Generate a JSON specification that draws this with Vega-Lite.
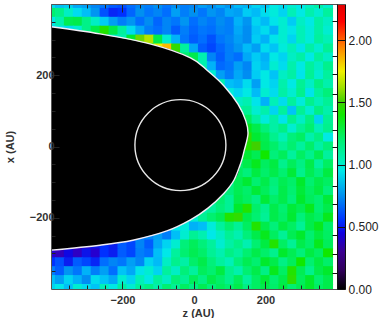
{"$schema":"https://vega.github.io/schema/vega-lite/v6.json","background":"white","padding":{"left":4,"top":3,"right":0,"bottom":0},"config":{"view":{"stroke":null},"axis":{"labelFont":"Liberation Sans","titleFont":"Liberation Sans","labelFontSize":11,"titleFontSize":11,"labelColor":"#333","titleColor":"#333","labelFontWeight":"bold","titleFontWeight":"bold","grid":false}},"datasets":{"cells":[
{"z":-400,"x":400,"v":0.92},{"z":-375,"x":400,"v":0.85},{"z":-350,"x":400,"v":0.88},{"z":-325,"x":400,"v":0.8},{"z":-300,"x":400,"v":0.78},{"z":-275,"x":400,"v":0.72},{"z":-250,"x":400,"v":0.68},{"z":-225,"x":400,"v":0.62},{"z":-200,"x":400,"v":0.6},{"z":-175,"x":400,"v":0.66},{"z":-150,"x":400,"v":0.72},{"z":-125,"x":400,"v":0.7},{"z":-100,"x":400,"v":0.75},{"z":-75,"x":400,"v":0.68},{"z":-50,"x":400,"v":0.74},{"z":-25,"x":400,"v":0.7},{"z":0,"x":400,"v":0.72},{"z":25,"x":400,"v":0.78},{"z":50,"x":400,"v":0.74},{"z":75,"x":400,"v":0.8},{"z":100,"x":400,"v":0.76},{"z":125,"x":400,"v":0.84},{"z":150,"x":400,"v":0.82},{"z":175,"x":400,"v":0.9},{"z":200,"x":400,"v":0.86},{"z":225,"x":400,"v":0.96},{"z":250,"x":400,"v":0.92},{"z":275,"x":400,"v":1.0},{"z":300,"x":400,"v":0.95},{"z":325,"x":400,"v":1.02},{"z":350,"x":400,"v":1.08},{"z":375,"x":400,"v":1.0},
{"z":-400,"x":375,"v":1.2},{"z":-375,"x":375,"v":1.15},{"z":-350,"x":375,"v":1.02},{"z":-325,"x":375,"v":0.92},{"z":-300,"x":375,"v":0.85},{"z":-275,"x":375,"v":0.76},{"z":-250,"x":375,"v":0.6},{"z":-225,"x":375,"v":0.52},{"z":-200,"x":375,"v":0.55},{"z":-175,"x":375,"v":0.64},{"z":-150,"x":375,"v":0.75},{"z":-125,"x":375,"v":0.68},{"z":-100,"x":375,"v":0.72},{"z":-75,"x":375,"v":0.66},{"z":-50,"x":375,"v":0.78},{"z":-25,"x":375,"v":0.7},{"z":0,"x":375,"v":0.75},{"z":25,"x":375,"v":0.68},{"z":50,"x":375,"v":0.76},{"z":75,"x":375,"v":0.72},{"z":100,"x":375,"v":0.8},{"z":125,"x":375,"v":0.78},{"z":150,"x":375,"v":0.88},{"z":175,"x":375,"v":0.84},{"z":200,"x":375,"v":0.92},{"z":225,"x":375,"v":0.98},{"z":250,"x":375,"v":0.9},{"z":275,"x":375,"v":1.04},{"z":300,"x":375,"v":0.96},{"z":325,"x":375,"v":1.06},{"z":350,"x":375,"v":1.0},{"z":375,"x":375,"v":1.1},
{"z":-400,"x":350,"v":0.95},{"z":-375,"x":350,"v":1.05},{"z":-350,"x":350,"v":1.28},{"z":-325,"x":350,"v":1.3},{"z":-300,"x":350,"v":1.15},{"z":-275,"x":350,"v":1.02},{"z":-250,"x":350,"v":0.88},{"z":-225,"x":350,"v":0.78},{"z":-200,"x":350,"v":0.7},{"z":-175,"x":350,"v":0.76},{"z":-150,"x":350,"v":0.66},{"z":-125,"x":350,"v":0.74},{"z":-100,"x":350,"v":0.64},{"z":-75,"x":350,"v":0.72},{"z":-50,"x":350,"v":0.68},{"z":-25,"x":350,"v":0.76},{"z":0,"x":350,"v":0.66},{"z":25,"x":350,"v":0.72},{"z":50,"x":350,"v":0.68},{"z":75,"x":350,"v":0.74},{"z":100,"x":350,"v":0.7},{"z":125,"x":350,"v":0.82},{"z":150,"x":350,"v":0.76},{"z":175,"x":350,"v":0.9},{"z":200,"x":350,"v":0.84},{"z":225,"x":350,"v":0.94},{"z":250,"x":350,"v":1.0},{"z":275,"x":350,"v":0.88},{"z":300,"x":350,"v":1.02},{"z":325,"x":350,"v":0.96},{"z":350,"x":350,"v":1.08},{"z":375,"x":350,"v":1.02},
{"z":-400,"x":325,"v":0.9},{"z":-375,"x":325,"v":0.95},{"z":-350,"x":325,"v":0.92},{"z":-325,"x":325,"v":1.0},{"z":-300,"x":325,"v":1.15},{"z":-275,"x":325,"v":1.3},{"z":-250,"x":325,"v":1.42},{"z":-225,"x":325,"v":1.3},{"z":-200,"x":325,"v":1.1},{"z":-175,"x":325,"v":0.92},{"z":-150,"x":325,"v":0.8},{"z":-125,"x":325,"v":0.7},{"z":-100,"x":325,"v":0.66},{"z":-75,"x":325,"v":0.72},{"z":-50,"x":325,"v":0.62},{"z":-25,"x":325,"v":0.7},{"z":0,"x":325,"v":0.64},{"z":25,"x":325,"v":0.68},{"z":50,"x":325,"v":0.66},{"z":75,"x":325,"v":0.72},{"z":100,"x":325,"v":0.7},{"z":125,"x":325,"v":0.8},{"z":150,"x":325,"v":0.74},{"z":175,"x":325,"v":0.86},{"z":200,"x":325,"v":0.92},{"z":225,"x":325,"v":0.82},{"z":250,"x":325,"v":1.0},{"z":275,"x":325,"v":0.94},{"z":300,"x":325,"v":1.04},{"z":325,"x":325,"v":0.98},{"z":350,"x":325,"v":1.08},{"z":375,"x":325,"v":1.0},
{"z":-250,"x":300,"v":0.9},{"z":-225,"x":300,"v":1.0},{"z":-200,"x":300,"v":1.05},{"z":-175,"x":300,"v":1.35},{"z":-150,"x":300,"v":1.55},{"z":-125,"x":300,"v":1.65},{"z":-100,"x":300,"v":1.3},{"z":-75,"x":300,"v":1.0},{"z":-50,"x":300,"v":0.82},{"z":-25,"x":300,"v":0.68},{"z":0,"x":300,"v":0.62},{"z":25,"x":300,"v":0.66},{"z":50,"x":300,"v":0.6},{"z":75,"x":300,"v":0.68},{"z":100,"x":300,"v":0.72},{"z":125,"x":300,"v":0.78},{"z":150,"x":300,"v":0.74},{"z":175,"x":300,"v":0.88},{"z":200,"x":300,"v":0.82},{"z":225,"x":300,"v":0.94},{"z":250,"x":300,"v":1.0},{"z":275,"x":300,"v":0.9},{"z":300,"x":300,"v":1.04},{"z":325,"x":300,"v":0.98},{"z":350,"x":300,"v":1.1},{"z":375,"x":300,"v":1.04},
{"z":-125,"x":275,"v":1.3},{"z":-100,"x":275,"v":1.75},{"z":-75,"x":275,"v":1.85},{"z":-50,"x":275,"v":1.45},{"z":-25,"x":275,"v":1.1},{"z":0,"x":275,"v":0.8},{"z":25,"x":275,"v":0.62},{"z":50,"x":275,"v":0.58},{"z":75,"x":275,"v":0.64},{"z":100,"x":275,"v":0.7},{"z":125,"x":275,"v":0.76},{"z":150,"x":275,"v":0.84},{"z":175,"x":275,"v":0.78},{"z":200,"x":275,"v":0.92},{"z":225,"x":275,"v":0.86},{"z":250,"x":275,"v":0.98},{"z":275,"x":275,"v":1.04},{"z":300,"x":275,"v":0.94},{"z":325,"x":275,"v":1.08},{"z":350,"x":275,"v":1.0},{"z":375,"x":275,"v":1.12},
{"z":-50,"x":250,"v":1.3},{"z":-25,"x":250,"v":1.2},{"z":0,"x":250,"v":1.3},{"z":25,"x":250,"v":1.05},{"z":50,"x":250,"v":0.72},{"z":75,"x":250,"v":0.62},{"z":100,"x":250,"v":0.7},{"z":125,"x":250,"v":0.66},{"z":150,"x":250,"v":0.8},{"z":175,"x":250,"v":0.88},{"z":200,"x":250,"v":0.82},{"z":225,"x":250,"v":0.96},{"z":250,"x":250,"v":0.9},{"z":275,"x":250,"v":1.02},{"z":300,"x":250,"v":1.08},{"z":325,"x":250,"v":0.96},{"z":350,"x":250,"v":1.1},{"z":375,"x":250,"v":1.02},
{"z":0,"x":225,"v":1.15},{"z":25,"x":225,"v":1.05},{"z":50,"x":225,"v":0.82},{"z":75,"x":225,"v":0.65},{"z":100,"x":225,"v":0.68},{"z":125,"x":225,"v":0.78},{"z":150,"x":225,"v":0.72},{"z":175,"x":225,"v":0.9},{"z":200,"x":225,"v":0.84},{"z":225,"x":225,"v":1.0},{"z":250,"x":225,"v":0.92},{"z":275,"x":225,"v":1.06},{"z":300,"x":225,"v":0.96},{"z":325,"x":225,"v":1.1},{"z":350,"x":225,"v":1.02},{"z":375,"x":225,"v":1.14},
{"z":25,"x":200,"v":1.1},{"z":50,"x":200,"v":1.0},{"z":75,"x":200,"v":0.78},{"z":100,"x":200,"v":0.7},{"z":125,"x":200,"v":0.8},{"z":150,"x":200,"v":0.74},{"z":175,"x":200,"v":0.88},{"z":200,"x":200,"v":0.96},{"z":225,"x":200,"v":0.86},{"z":250,"x":200,"v":1.02},{"z":275,"x":200,"v":1.08},{"z":300,"x":200,"v":0.94},{"z":325,"x":200,"v":1.12},{"z":350,"x":200,"v":1.0},{"z":375,"x":200,"v":1.1},
{"z":75,"x":175,"v":1.05},{"z":100,"x":175,"v":0.85},{"z":125,"x":175,"v":0.82},{"z":150,"x":175,"v":0.92},{"z":175,"x":175,"v":0.78},{"z":200,"x":175,"v":0.96},{"z":225,"x":175,"v":0.9},{"z":250,"x":175,"v":1.06},{"z":275,"x":175,"v":0.96},{"z":300,"x":175,"v":1.12},{"z":325,"x":175,"v":1.02},{"z":350,"x":175,"v":1.16},{"z":375,"x":175,"v":1.06},
{"z":100,"x":150,"v":0.98},{"z":125,"x":150,"v":0.9},{"z":150,"x":150,"v":0.96},{"z":175,"x":150,"v":0.84},{"z":200,"x":150,"v":1.0},{"z":225,"x":150,"v":0.92},{"z":250,"x":150,"v":1.08},{"z":275,"x":150,"v":1.0},{"z":300,"x":150,"v":1.14},{"z":325,"x":150,"v":0.94},{"z":350,"x":150,"v":1.1},{"z":375,"x":150,"v":1.18},
{"z":100,"x":125,"v":1.1},{"z":125,"x":125,"v":1.02},{"z":150,"x":125,"v":1.05},{"z":175,"x":125,"v":0.94},{"z":200,"x":125,"v":0.82},{"z":225,"x":125,"v":1.04},{"z":250,"x":125,"v":0.92},{"z":275,"x":125,"v":1.1},{"z":300,"x":125,"v":0.98},{"z":325,"x":125,"v":1.14},{"z":350,"x":125,"v":1.04},{"z":375,"x":125,"v":1.12},
{"z":125,"x":100,"v":1.1},{"z":150,"x":100,"v":1.12},{"z":175,"x":100,"v":1.0},{"z":200,"x":100,"v":1.06},{"z":225,"x":100,"v":0.9},{"z":250,"x":100,"v":1.1},{"z":275,"x":100,"v":0.86},{"z":300,"x":100,"v":1.12},{"z":325,"x":100,"v":1.0},{"z":350,"x":100,"v":1.16},{"z":375,"x":100,"v":1.06},
{"z":125,"x":75,"v":1.2},{"z":150,"x":75,"v":1.25},{"z":175,"x":75,"v":1.1},{"z":200,"x":75,"v":0.98},{"z":225,"x":75,"v":1.08},{"z":250,"x":75,"v":0.94},{"z":275,"x":75,"v":1.14},{"z":300,"x":75,"v":1.02},{"z":325,"x":75,"v":1.16},{"z":350,"x":75,"v":0.9},{"z":375,"x":75,"v":1.12},
{"z":150,"x":50,"v":1.38},{"z":175,"x":50,"v":1.3},{"z":200,"x":50,"v":1.18},{"z":225,"x":50,"v":1.08},{"z":250,"x":50,"v":1.16},{"z":275,"x":50,"v":1.0},{"z":300,"x":50,"v":1.12},{"z":325,"x":50,"v":1.2},{"z":350,"x":50,"v":1.04},{"z":375,"x":50,"v":1.14},
{"z":150,"x":25,"v":1.45},{"z":175,"x":25,"v":1.35},{"z":200,"x":25,"v":1.28},{"z":225,"x":25,"v":1.14},{"z":250,"x":25,"v":1.04},{"z":275,"x":25,"v":1.18},{"z":300,"x":25,"v":1.24},{"z":325,"x":25,"v":1.06},{"z":350,"x":25,"v":1.16},{"z":375,"x":25,"v":0.96},
{"z":125,"x":0,"v":1.3},{"z":150,"x":0,"v":1.42},{"z":175,"x":0,"v":1.5},{"z":200,"x":0,"v":1.3},{"z":225,"x":0,"v":1.22},{"z":250,"x":0,"v":1.12},{"z":275,"x":0,"v":1.2},{"z":300,"x":0,"v":1.1},{"z":325,"x":0,"v":1.22},{"z":350,"x":0,"v":1.08},{"z":375,"x":0,"v":1.18},
{"z":125,"x":-25,"v":1.25},{"z":150,"x":-25,"v":1.35},{"z":175,"x":-25,"v":1.28},{"z":200,"x":-25,"v":1.4},{"z":225,"x":-25,"v":1.18},{"z":250,"x":-25,"v":1.26},{"z":275,"x":-25,"v":1.1},{"z":300,"x":-25,"v":1.24},{"z":325,"x":-25,"v":1.14},{"z":350,"x":-25,"v":1.28},{"z":375,"x":-25,"v":1.1},
{"z":125,"x":-50,"v":1.2},{"z":150,"x":-50,"v":1.3},{"z":175,"x":-50,"v":1.38},{"z":200,"x":-50,"v":1.25},{"z":225,"x":-50,"v":1.32},{"z":250,"x":-50,"v":1.14},{"z":275,"x":-50,"v":1.26},{"z":300,"x":-50,"v":1.16},{"z":325,"x":-50,"v":1.3},{"z":350,"x":-50,"v":1.1},{"z":375,"x":-50,"v":1.24},
{"z":100,"x":-75,"v":1.2},{"z":125,"x":-75,"v":1.25},{"z":150,"x":-75,"v":1.18},{"z":175,"x":-75,"v":1.32},{"z":200,"x":-75,"v":1.22},{"z":225,"x":-75,"v":1.3},{"z":250,"x":-75,"v":1.2},{"z":275,"x":-75,"v":1.34},{"z":300,"x":-75,"v":1.14},{"z":325,"x":-75,"v":1.28},{"z":350,"x":-75,"v":1.18},{"z":375,"x":-75,"v":1.32},
{"z":100,"x":-100,"v":1.15},{"z":125,"x":-100,"v":1.28},{"z":150,"x":-100,"v":1.35},{"z":175,"x":-100,"v":1.2},{"z":200,"x":-100,"v":1.3},{"z":225,"x":-100,"v":1.18},{"z":250,"x":-100,"v":1.28},{"z":275,"x":-100,"v":1.22},{"z":300,"x":-100,"v":1.36},{"z":325,"x":-100,"v":1.2},{"z":350,"x":-100,"v":1.3},{"z":375,"x":-100,"v":1.24},
{"z":75,"x":-125,"v":1.1},{"z":100,"x":-125,"v":1.18},{"z":125,"x":-125,"v":1.28},{"z":150,"x":-125,"v":1.22},{"z":175,"x":-125,"v":1.34},{"z":200,"x":-125,"v":1.26},{"z":225,"x":-125,"v":1.16},{"z":250,"x":-125,"v":1.3},{"z":275,"x":-125,"v":1.2},{"z":300,"x":-125,"v":1.34},{"z":325,"x":-125,"v":1.24},{"z":350,"x":-125,"v":1.32},{"z":375,"x":-125,"v":1.18},
{"z":50,"x":-150,"v":1.15},{"z":75,"x":-150,"v":1.2},{"z":100,"x":-150,"v":1.12},{"z":125,"x":-150,"v":1.3},{"z":150,"x":-150,"v":1.24},{"z":175,"x":-150,"v":1.16},{"z":200,"x":-150,"v":1.34},{"z":225,"x":-150,"v":1.22},{"z":250,"x":-150,"v":1.3},{"z":275,"x":-150,"v":1.18},{"z":300,"x":-150,"v":1.36},{"z":325,"x":-150,"v":1.26},{"z":350,"x":-150,"v":1.2},{"z":375,"x":-150,"v":1.34},
{"z":25,"x":-175,"v":1.05},{"z":50,"x":-175,"v":1.1},{"z":75,"x":-175,"v":1.18},{"z":100,"x":-175,"v":1.12},{"z":125,"x":-175,"v":1.36},{"z":150,"x":-175,"v":1.42},{"z":175,"x":-175,"v":1.22},{"z":200,"x":-175,"v":1.14},{"z":225,"x":-175,"v":1.3},{"z":250,"x":-175,"v":1.2},{"z":275,"x":-175,"v":1.34},{"z":300,"x":-175,"v":1.28},{"z":325,"x":-175,"v":1.38},{"z":350,"x":-175,"v":1.2},{"z":375,"x":-175,"v":1.3},
{"z":-25,"x":-200,"v":1.05},{"z":0,"x":-200,"v":1.0},{"z":25,"x":-200,"v":1.12},{"z":50,"x":-200,"v":1.2},{"z":75,"x":-200,"v":1.28},{"z":100,"x":-200,"v":1.42},{"z":125,"x":-200,"v":1.45},{"z":150,"x":-200,"v":1.3},{"z":175,"x":-200,"v":1.2},{"z":200,"x":-200,"v":1.12},{"z":225,"x":-200,"v":1.3},{"z":250,"x":-200,"v":1.22},{"z":275,"x":-200,"v":1.35},{"z":300,"x":-200,"v":1.18},{"z":325,"x":-200,"v":1.3},{"z":350,"x":-200,"v":1.24},{"z":375,"x":-200,"v":1.38},
{"z":-75,"x":-225,"v":0.8},{"z":-50,"x":-225,"v":0.95},{"z":-25,"x":-225,"v":0.98},{"z":0,"x":-225,"v":0.82},{"z":25,"x":-225,"v":0.85},{"z":50,"x":-225,"v":0.98},{"z":75,"x":-225,"v":1.1},{"z":100,"x":-225,"v":1.2},{"z":125,"x":-225,"v":1.12},{"z":150,"x":-225,"v":1.25},{"z":175,"x":-225,"v":1.42},{"z":200,"x":-225,"v":1.3},{"z":225,"x":-225,"v":1.18},{"z":250,"x":-225,"v":1.32},{"z":275,"x":-225,"v":1.24},{"z":300,"x":-225,"v":1.12},{"z":325,"x":-225,"v":1.3},{"z":350,"x":-225,"v":1.38},{"z":375,"x":-225,"v":1.22},
{"z":-175,"x":-250,"v":0.65},{"z":-150,"x":-250,"v":0.68},{"z":-125,"x":-250,"v":0.72},{"z":-100,"x":-250,"v":0.78},{"z":-75,"x":-250,"v":0.7},{"z":-50,"x":-250,"v":0.85},{"z":-25,"x":-250,"v":1.0},{"z":0,"x":-250,"v":1.12},{"z":25,"x":-250,"v":1.05},{"z":50,"x":-250,"v":0.95},{"z":75,"x":-250,"v":1.02},{"z":100,"x":-250,"v":1.12},{"z":125,"x":-250,"v":1.05},{"z":150,"x":-250,"v":1.18},{"z":175,"x":-250,"v":1.3},{"z":200,"x":-250,"v":1.38},{"z":225,"x":-250,"v":1.25},{"z":250,"x":-250,"v":1.12},{"z":275,"x":-250,"v":1.28},{"z":300,"x":-250,"v":1.36},{"z":325,"x":-250,"v":1.2},{"z":350,"x":-250,"v":1.32},{"z":375,"x":-250,"v":1.24},
{"z":-375,"x":-275,"v":0.38},{"z":-350,"x":-275,"v":0.44},{"z":-325,"x":-275,"v":0.4},{"z":-300,"x":-275,"v":0.42},{"z":-275,"x":-275,"v":0.48},{"z":-250,"x":-275,"v":0.55},{"z":-225,"x":-275,"v":0.5},{"z":-200,"x":-275,"v":0.62},{"z":-175,"x":-275,"v":0.58},{"z":-150,"x":-275,"v":0.72},{"z":-125,"x":-275,"v":0.62},{"z":-100,"x":-275,"v":0.8},{"z":-75,"x":-275,"v":0.9},{"z":-50,"x":-275,"v":1.0},{"z":-25,"x":-275,"v":1.18},{"z":0,"x":-275,"v":1.26},{"z":25,"x":-275,"v":1.18},{"z":50,"x":-275,"v":1.1},{"z":75,"x":-275,"v":1.0},{"z":100,"x":-275,"v":1.08},{"z":125,"x":-275,"v":1.15},{"z":150,"x":-275,"v":1.05},{"z":175,"x":-275,"v":1.2},{"z":200,"x":-275,"v":1.32},{"z":225,"x":-275,"v":1.42},{"z":250,"x":-275,"v":1.24},{"z":275,"x":-275,"v":1.12},{"z":300,"x":-275,"v":1.3},{"z":325,"x":-275,"v":1.22},{"z":350,"x":-275,"v":1.38},{"z":375,"x":-275,"v":1.26},
{"z":-400,"x":-300,"v":0.42},{"z":-375,"x":-300,"v":0.38},{"z":-350,"x":-300,"v":0.46},{"z":-325,"x":-300,"v":0.4},{"z":-300,"x":-300,"v":0.48},{"z":-275,"x":-300,"v":0.42},{"z":-250,"x":-300,"v":0.55},{"z":-225,"x":-300,"v":0.5},{"z":-200,"x":-300,"v":0.62},{"z":-175,"x":-300,"v":0.58},{"z":-150,"x":-300,"v":0.7},{"z":-125,"x":-300,"v":0.66},{"z":-100,"x":-300,"v":0.85},{"z":-75,"x":-300,"v":0.95},{"z":-50,"x":-300,"v":1.1},{"z":-25,"x":-300,"v":1.2},{"z":0,"x":-300,"v":1.28},{"z":25,"x":-300,"v":1.22},{"z":50,"x":-300,"v":1.12},{"z":75,"x":-300,"v":1.05},{"z":100,"x":-300,"v":1.16},{"z":125,"x":-300,"v":1.1},{"z":150,"x":-300,"v":1.2},{"z":175,"x":-300,"v":1.3},{"z":200,"x":-300,"v":1.22},{"z":225,"x":-300,"v":1.14},{"z":250,"x":-300,"v":1.36},{"z":275,"x":-300,"v":1.28},{"z":300,"x":-300,"v":1.18},{"z":325,"x":-300,"v":1.32},{"z":350,"x":-300,"v":1.24},{"z":375,"x":-300,"v":1.4},
{"z":-400,"x":-325,"v":0.55},{"z":-375,"x":-325,"v":0.6},{"z":-350,"x":-325,"v":0.5},{"z":-325,"x":-325,"v":0.62},{"z":-300,"x":-325,"v":0.58},{"z":-275,"x":-325,"v":0.52},{"z":-250,"x":-325,"v":0.66},{"z":-225,"x":-325,"v":0.72},{"z":-200,"x":-325,"v":0.68},{"z":-175,"x":-325,"v":0.78},{"z":-150,"x":-325,"v":0.72},{"z":-125,"x":-325,"v":0.9},{"z":-100,"x":-325,"v":0.84},{"z":-75,"x":-325,"v":1.02},{"z":-50,"x":-325,"v":1.14},{"z":-25,"x":-325,"v":1.08},{"z":0,"x":-325,"v":1.22},{"z":25,"x":-325,"v":1.3},{"z":50,"x":-325,"v":1.18},{"z":75,"x":-325,"v":1.1},{"z":100,"x":-325,"v":1.04},{"z":125,"x":-325,"v":1.18},{"z":150,"x":-325,"v":1.28},{"z":175,"x":-325,"v":1.2},{"z":200,"x":-325,"v":1.36},{"z":225,"x":-325,"v":1.3},{"z":250,"x":-325,"v":1.16},{"z":275,"x":-325,"v":1.26},{"z":300,"x":-325,"v":1.4},{"z":325,"x":-325,"v":1.2},{"z":350,"x":-325,"v":1.32},{"z":375,"x":-325,"v":1.22},
{"z":-400,"x":-350,"v":0.7},{"z":-375,"x":-350,"v":0.62},{"z":-350,"x":-350,"v":0.76},{"z":-325,"x":-350,"v":0.68},{"z":-300,"x":-350,"v":0.82},{"z":-275,"x":-350,"v":0.7},{"z":-250,"x":-350,"v":0.78},{"z":-225,"x":-350,"v":0.66},{"z":-200,"x":-350,"v":0.86},{"z":-175,"x":-350,"v":0.8},{"z":-150,"x":-350,"v":0.94},{"z":-125,"x":-350,"v":1.0},{"z":-100,"x":-350,"v":0.9},{"z":-75,"x":-350,"v":1.1},{"z":-50,"x":-350,"v":1.02},{"z":-25,"x":-350,"v":1.18},{"z":0,"x":-350,"v":1.1},{"z":25,"x":-350,"v":1.26},{"z":50,"x":-350,"v":1.2},{"z":75,"x":-350,"v":1.32},{"z":100,"x":-350,"v":1.14},{"z":125,"x":-350,"v":1.06},{"z":150,"x":-350,"v":1.2},{"z":175,"x":-350,"v":1.3},{"z":200,"x":-350,"v":1.16},{"z":225,"x":-350,"v":1.38},{"z":250,"x":-350,"v":1.24},{"z":275,"x":-350,"v":1.42},{"z":300,"x":-350,"v":1.28},{"z":325,"x":-350,"v":1.14},{"z":350,"x":-350,"v":1.3},{"z":375,"x":-350,"v":1.36},
{"z":-400,"x":-375,"v":0.85},{"z":-375,"x":-375,"v":0.78},{"z":-350,"x":-375,"v":0.9},{"z":-325,"x":-375,"v":0.82},{"z":-300,"x":-375,"v":0.74},{"z":-275,"x":-375,"v":0.92},{"z":-250,"x":-375,"v":0.86},{"z":-225,"x":-375,"v":0.8},{"z":-200,"x":-375,"v":1.0},{"z":-175,"x":-375,"v":0.9},{"z":-150,"x":-375,"v":1.04},{"z":-125,"x":-375,"v":0.96},{"z":-100,"x":-375,"v":1.1},{"z":-75,"x":-375,"v":1.02},{"z":-50,"x":-375,"v":1.18},{"z":-25,"x":-375,"v":1.12},{"z":0,"x":-375,"v":1.26},{"z":25,"x":-375,"v":1.16},{"z":50,"x":-375,"v":1.3},{"z":75,"x":-375,"v":1.22},{"z":100,"x":-375,"v":1.14},{"z":125,"x":-375,"v":1.26},{"z":150,"x":-375,"v":1.1},{"z":175,"x":-375,"v":1.24},{"z":200,"x":-375,"v":1.34},{"z":225,"x":-375,"v":1.2},{"z":250,"x":-375,"v":1.3},{"z":275,"x":-375,"v":1.44},{"z":300,"x":-375,"v":1.26},{"z":325,"x":-375,"v":1.36},{"z":350,"x":-375,"v":1.2},{"z":375,"x":-375,"v":1.3},
{"z":-400,"x":-400,"v":0.9},{"z":-375,"x":-400,"v":0.95},{"z":-350,"x":-400,"v":0.85},{"z":-325,"x":-400,"v":1.0},{"z":-300,"x":-400,"v":0.92},{"z":-275,"x":-400,"v":0.86},{"z":-250,"x":-400,"v":1.04},{"z":-225,"x":-400,"v":0.96},{"z":-200,"x":-400,"v":1.08},{"z":-175,"x":-400,"v":1.0},{"z":-150,"x":-400,"v":1.1},{"z":-125,"x":-400,"v":1.16},{"z":-100,"x":-400,"v":1.06},{"z":-75,"x":-400,"v":1.2},{"z":-50,"x":-400,"v":1.12},{"z":-25,"x":-400,"v":1.24},{"z":0,"x":-400,"v":1.16},{"z":25,"x":-400,"v":1.28},{"z":50,"x":-400,"v":1.18},{"z":75,"x":-400,"v":1.26},{"z":100,"x":-400,"v":1.2},{"z":125,"x":-400,"v":1.3},{"z":150,"x":-400,"v":1.16},{"z":175,"x":-400,"v":1.24},{"z":200,"x":-400,"v":1.3},{"z":225,"x":-400,"v":1.22},{"z":250,"x":-400,"v":1.32},{"z":275,"x":-400,"v":1.2},{"z":300,"x":-400,"v":1.28},{"z":325,"x":-400,"v":1.36},{"z":350,"x":-400,"v":1.24},{"z":375,"x":-400,"v":1.3}
],"body":[
{"z":-400,"top":336,"bottom":-291},{"z":-263,"top":316,"bottom":-277},{"z":-171,"top":298,"bottom":-263},{"z":-123,"top":288,"bottom":-250},{"z":-76,"top":276,"bottom":-237},{"z":-10,"top":249,"bottom":-206},{"z":39,"top":212,"bottom":-173},{"z":84,"top":170,"bottom":-131},{"z":112,"top":135,"bottom":-94},{"z":123,"top":119,"bottom":-76},{"z":131,"top":103,"bottom":-46},{"z":140,"top":83,"bottom":-13},{"z":145,"top":72,"bottom":8},{"z":151,"top":35,"bottom":30}
],"edge":[
{"i":1,"z":-400,"x":336},{"i":2,"z":-263,"x":316},{"i":3,"z":-123,"x":288},{"i":4,"z":-10,"x":249},{"i":5,"z":39,"x":212},{"i":6,"z":84,"x":170},{"i":7,"z":123,"x":119},{"i":8,"z":145,"x":72},{"i":9,"z":151,"x":35},{"i":10,"z":140,"x":-13},{"i":11,"z":131,"x":-46},{"i":12,"z":112,"x":-94},{"i":13,"z":84,"x":-131},{"i":14,"z":39,"x":-173},{"i":15,"z":-10,"x":-206},{"i":16,"z":-76,"x":-237},{"i":17,"z":-171,"x":-263},{"i":18,"z":-263,"x":-277},{"i":19,"z":-400,"x":-291}
],"ring":[{"z":-38,"x":4}],"bar":[{"a":400,"b":422.4,"lo":0,"hi":2.29}]},
"width":294,"height":285,"resolve":{"scale":{"y":"independent"},"axis":{"x":"independent","y":"independent"}},"layer":[
{"data":{"name":"cells"},"mark":{"type":"rect","width":10,"height":10,"clip":true},"encoding":{
"x":{"field":"z","type":"quantitative","scale":{"domain":[-400,422.4],"nice":false},"axis":{"orient":"bottom","title":"z (AU)","values":[-350,-300,-250,-200,-150,-100,-50,0,50,100,150,200,250,300,350],"labelExpr":"datum.value%200==0?datum.label:''","labelOverlap":false,"labelPadding":13,"titlePadding":-2,"domainColor":"#555","tickColor":"#222","tickSize":{"condition":{"test":"datum.value%200==0","value":-8},"value":-4},"zindex":1}},
"y":{"field":"x","type":"quantitative","scale":{"domain":[-400,400],"nice":false},"axis":{"orient":"left","title":"x (AU)","values":[-350,-300,-250,-200,-150,-100,-50,0,50,100,150,200,250,300,350],"labelExpr":"datum.value%200==0?datum.label:''","labelOverlap":false,"labelPadding":5,"titlePadding":14,"domainColor":"#555","tickColor":"#222","tickSize":{"condition":{"test":"datum.value%200==0","value":-8},"value":-4},"zindex":1}},
"color":{"field":"v","type":"quantitative","legend":null,"scale":{"domain":[0,0.15,0.3,0.45,0.55,0.75,0.95,1.05,1.2,1.4,1.5,1.62,1.75,1.95,2.15,2.29],"range":["#000000","#30005a","#3a0090","#1000e0","#0030ff","#0090f0","#00e8e8","#00f0b0","#00f070","#10e800","#40d000","#a0e000","#f0f000","#ff8000","#ff0000","#e00000"]}}}},
{"data":{"name":"body"},"mark":{"type":"area","color":"black","interpolate":"monotone","clip":true},"encoding":{"x":{"field":"z","type":"quantitative","axis":null},"y":{"field":"top","type":"quantitative","scale":{"domain":[-400,400],"nice":false},"axis":null},"y2":{"field":"bottom"}}},
{"data":{"name":"edge"},"mark":{"type":"line","color":"#f2eef6","strokeWidth":1.4,"interpolate":"cardinal","clip":true},"encoding":{"x":{"field":"z","type":"quantitative","axis":null},"y":{"field":"x","type":"quantitative","scale":{"domain":[-400,400],"nice":false},"axis":null},"order":{"field":"i"}}},
{"data":{"name":"ring"},"mark":{"type":"point","filled":false,"size":8281,"stroke":"#e8e8e8","strokeWidth":1.4,"opacity":1},"encoding":{"x":{"field":"z","type":"quantitative","axis":{"orient":"top","title":null,"values":[-350,-300,-250,-200,-150,-100,-50,0,50,100,150,200,250,300,350],"labels":false,"domainColor":"#555","tickColor":"#222","tickSize":{"condition":{"test":"datum.value%200==0","value":-8},"value":-4},"zindex":1}},"y":{"field":"x","type":"quantitative","scale":{"domain":[-400,400],"nice":false},"axis":null}}},
{"data":{"name":"bar"},"mark":{"type":"rect","color":{"gradient":"linear","x1":0,"x2":0,"y1":1,"y2":0,"stops":[{"offset":0,"color":"#000000"},{"offset":0.0655,"color":"#30005a"},{"offset":0.131,"color":"#3a0090"},{"offset":0.1965,"color":"#1000e0"},{"offset":0.24,"color":"#0030ff"},{"offset":0.3275,"color":"#0090f0"},{"offset":0.415,"color":"#00e8e8"},{"offset":0.4585,"color":"#00f0b0"},{"offset":0.524,"color":"#00f070"},{"offset":0.611,"color":"#10e800"},{"offset":0.655,"color":"#40d000"},{"offset":0.707,"color":"#a0e000"},{"offset":0.764,"color":"#f0f000"},{"offset":0.852,"color":"#ff8000"},{"offset":0.939,"color":"#ff0000"},{"offset":1,"color":"#e00000"}]}},"encoding":{"x":{"field":"a","type":"quantitative","axis":null},"x2":{"field":"b"},"y":{"field":"lo","type":"quantitative","scale":{"domain":[0,2.29],"nice":false},"axis":{"orient":"right","title":null,"values":[0,0.5,1,1.5,2],"labelExpr":"datum.value==0.5?'0.500':format(datum.value,'.2f')","labelOverlap":false,"labelPadding":11,"tickSize":-8,"tickColor":"#111","domainColor":"#111","labelFontWeight":"normal","labelColor":"#222","labelFontSize":12,"labelBaseline":"middle","zindex":1}},"y2":{"field":"hi"}}},
{"data":{"name":"bar"},"mark":{"type":"rect","opacity":0},"encoding":{"x":{"field":"a","type":"quantitative","axis":null},"x2":{"field":"b"},"y":{"field":"lo","type":"quantitative","scale":{"domain":[0,2.29],"nice":false},"axis":{"orient":"left","offset":-286,"title":null,"values":[0.13,0.28,0.43,0.68,0.83,1.14,1.28,1.43,1.57,1.73,1.87,2.15],"labels":false,"tickSize":5,"tickColor":"#111","domainColor":"#111","zindex":1}},"y2":{"field":"hi"}}}
]}
